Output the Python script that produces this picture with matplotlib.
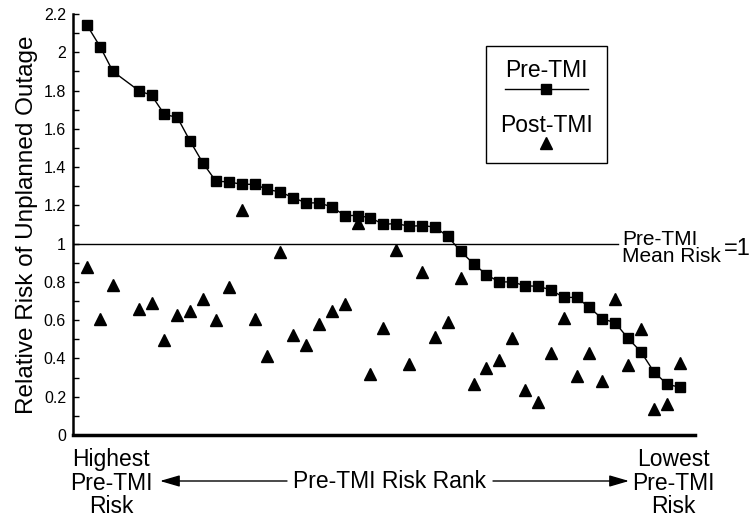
import matplotlib
matplotlib.use("Agg")
import matplotlib.pyplot as plt
from matplotlib.lines import Line2D
from matplotlib.patches import Rectangle
from matplotlib.ticker import MultipleLocator, FormatStrFormatter

plt.rcParams['font.family'] = ['Liberation Sans', 'DejaVu Sans']

# rank position of each plant (slot 3 is empty in the original)
rank = [0, 1, 2, 4, 5, 6, 7, 8, 9, 10, 11, 12, 13, 14, 15, 16, 17, 18, 19, 20,
        21, 22, 23, 24, 25, 26, 27, 28, 29, 30, 31, 32, 33, 34, 35, 36, 37, 38,
        39, 40, 41, 42, 43, 44, 45, 46]

pre_tmi = [2.14, 2.03, 1.90, 1.80, 1.775, 1.675, 1.66, 1.535, 1.42, 1.326,
           1.323, 1.31, 1.31, 1.283, 1.27, 1.24, 1.213, 1.213, 1.192, 1.147,
           1.147, 1.135, 1.101, 1.105, 1.091, 1.094, 1.087, 1.038, 0.96, 0.895,
           0.838, 0.80, 0.80, 0.78, 0.777, 0.759, 0.719, 0.719, 0.667, 0.607,
           0.587, 0.505, 0.435, 0.331, 0.267, 0.249]

post_tmi = [0.88, 0.606, 0.785, 0.658, 0.69, 0.494, 0.628, 0.65, 0.71, 0.60,
            0.773, 1.178, 0.606, 0.414, 0.957, 0.524, 0.471, 0.58, 0.649, 0.686,
            1.108, 0.318, 0.559, 0.969, 0.37, 0.85, 0.512, 0.588, 0.82, 0.265,
            0.35, 0.39, 0.506, 0.236, 0.174, 0.428, 0.611, 0.31, 0.428, 0.282,
            0.712, 0.365, 0.552, 0.134, 0.162, 0.375]

y_ticks = [0, 0.2, 0.4, 0.6, 0.8, 1, 1.2, 1.4, 1.6, 1.8, 2, 2.2]

W, H = 752, 524
fig = plt.figure(figsize=(W / 100, H / 100), dpi=100)
ax = fig.add_axes([73 / W, (H - 435) / H, (695 - 73) / W, (435 - 14) / H])


def fx(px):
    return px / W


def fy(py):
    return 1 - py / H


ax.plot(rank, pre_tmi, color='black', lw=1.0, marker='s', ms=7.2,
        mfc='black', mec='black', zorder=3)
ax.plot(rank, post_tmi, ls='none', marker='^', ms=8.5, color='black', zorder=3)

ax.axhline(1, xmin=0, xmax=0.876, color='black', lw=1.0)

ax.set_xlim(-1.1, 47.2)
ax.set_ylim(0, 2.2)
ax.set_xticks([])
ax.set_yticks(y_ticks)
ax.yaxis.set_major_formatter(FormatStrFormatter('%g'))
ax.yaxis.set_minor_locator(MultipleLocator(0.1))
ax.tick_params(axis='y', which='both', direction='in', length=4, width=1,
               labelsize=11.5, pad=5)
for s in ['top', 'right']:
    ax.spines[s].set_visible(False)
ax.spines['left'].set_linewidth(1.8)
ax.spines['bottom'].set_linewidth(2.5)

ax.set_ylabel('Relative Risk of Unplanned Outage', fontsize=17.5, labelpad=4)

# mean-risk note
fig.text(fx(622), fy(248), 'Pre-TMI\nMean Risk', fontsize=15, ha='left',
         va='center', linespacing=0.85)
fig.text(fx(724), fy(249), '=1', fontsize=17, ha='left', va='center')

# legend box
fig.patches.append(Rectangle((fx(486), fy(163)), (607 - 486) / W, (163 - 46) / H,
                             transform=fig.transFigure, fill=False, lw=1,
                             edgecolor='black'))
fig.text(fx(546), fy(70), 'Pre-TMI', fontsize=16.5, ha='center', va='center')
fig.lines.append(Line2D([fx(505), fx(588)], [fy(89), fy(89)], color='black',
                        lw=1, transform=fig.transFigure))
fig.lines.append(Line2D([fx(546)], [fy(89)], marker='s', ms=7.2, color='black',
                        transform=fig.transFigure))
fig.text(fx(546), fy(125), 'Post-TMI', fontsize=16.5, ha='center', va='center')
fig.lines.append(Line2D([fx(546)], [fy(143)], marker='^', ms=8.5, color='black',
                        ls='none', transform=fig.transFigure))

# x-axis description
fig.text(fx(111), fy(483), 'Highest\nPre-TMI\nRisk', fontsize=16.5,
         ha='center', va='center', linespacing=1.05)
fig.text(fx(673), fy(483), 'Lowest\nPre-TMI\nRisk', fontsize=16.5,
         ha='center', va='center', linespacing=1.05)
fig.text(fx(390), fy(482), 'Pre-TMI Risk Rank', fontsize=16.5,
         ha='center', va='center')
arrow = dict(arrowstyle='-|>,head_length=1.2,head_width=0.35', color='black',
             lw=1, shrinkA=0, shrinkB=0)
ax.annotate('', xy=(fx(160), fy(481)), xytext=(fx(287), fy(481)),
            xycoords='figure fraction', textcoords='figure fraction',
            arrowprops=arrow, annotation_clip=False)
ax.annotate('', xy=(fx(629), fy(481)), xytext=(fx(493), fy(481)),
            xycoords='figure fraction', textcoords='figure fraction',
            arrowprops=arrow, annotation_clip=False)

fig.savefig('out.png', dpi=100)
